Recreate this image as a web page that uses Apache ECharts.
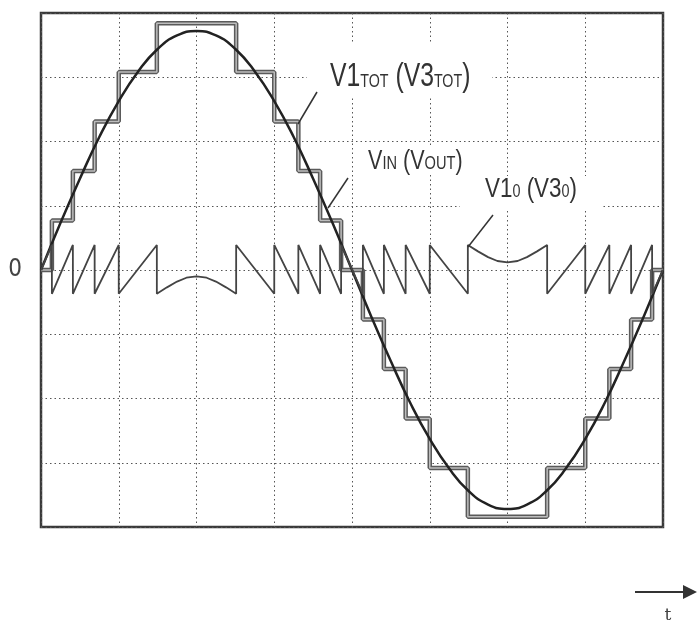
<!DOCTYPE html>
<html>
<head>
<meta charset="utf-8">
<script src="https://cdn.jsdelivr.net/npm/echarts@6/dist/echarts.min.js"></script>
<style>
html,body{margin:0;padding:0;background:#fff;}
#chart{width:697px;height:626px;}
</style>
</head>
<body>
<div id="chart"></div>
<script>
// Time axis: 8 grid divisions = one period
var sineT = [0,0.25,0.5,0.75,1,1.25,1.5,1.75,2,2.25,2.5,2.75,3,3.25,3.5,3.75,4,4.25,4.5,4.75,5,5.25,5.5,5.75,6,6.25,6.5,6.75,7,7.25,7.5,7.75,8];
var sineV = [0,0.73,1.42,2.07,2.63,3.09,3.44,3.65,3.72,3.65,3.44,3.09,2.63,2.07,1.42,0.73,0,-0.73,-1.42,-2.07,-2.63,-3.09,-3.44,-3.65,-3.72,-3.65,-3.44,-3.09,-2.63,-2.07,-1.42,-0.73,0];

// Staircase V1tot (V3tot): level held from stairT[i] to stairT[i+1]
var stairT = [0,0.14,0.41,0.69,1.0,1.49,2.51,3.0,3.31,3.59,3.86,4.14,4.41,4.69,5.0,5.49,6.51,7.0,7.31,7.59,7.86,8];
var stairV = [0,0.77,1.54,2.31,3.08,3.84,3.08,2.31,1.54,0.77,0,-0.77,-1.54,-2.31,-3.08,-3.84,-3.08,-2.31,-1.54,-0.77,0,0];

// Sawtooth V10 (V30) vertices
var sawT = [0,0.14,0.14,0.41,0.41,0.69,0.69,1.0,1.0,1.49,1.49,1.62,1.75,1.87,2.0,2.13,2.25,2.38,2.51,2.51,3.0,3.0,3.31,3.31,3.59,3.59,3.86,3.86,4.14,4.14,4.41,4.41,4.69,4.69,5.0,5.0,5.49,5.49,5.62,5.75,5.87,6.0,6.13,6.25,6.38,6.51,6.51,7.0,7.0,7.31,7.31,7.59,7.59,7.86,7.86,8];
var sawV = [0,0.39,-0.37,0.39,-0.37,0.39,-0.37,0.39,-0.37,0.39,-0.37,-0.27,-0.18,-0.12,-0.10,-0.12,-0.18,-0.27,-0.37,0.39,-0.37,0.39,-0.37,0.39,-0.37,0.39,-0.37,0.39,-0.37,0.39,-0.37,0.39,-0.37,0.39,-0.37,0.39,-0.37,0.39,0.29,0.20,0.14,0.12,0.14,0.20,0.29,0.39,-0.37,0.39,-0.37,0.39,-0.37,0.39,-0.37,0.39,-0.37,0];

var yTickLabels = {"0": "0"};

function zip(a, b) { return a.map(function (v, i) { return [v, b[i]]; }); }

var FONT = "'Liberation Sans', Arial, sans-serif";
var SX = 0.77;
var chart = echarts.init(document.getElementById('chart'));
var option = {
  animation: false,
  backgroundColor: '#fff',
  grid: {left: 41, right: 34, top: 13, bottom: 99, show: true, borderColor: '#3a3a3a', borderWidth: 2.5},
  xAxis: {
    type: 'value', min: 0, max: 8, interval: 1,
    axisLine: {show: false}, axisTick: {show: false}, axisLabel: {show: false},
    splitLine: {show: true, lineStyle: {color: '#555', type: [1.5, 3], width: 1}}
  },
  yAxis: {
    type: 'value', min: -4, max: 4, interval: 1,
    axisLine: {show: false}, axisTick: {show: false},
    axisLabel: {show: true, margin: 19, fontSize: 24, color: '#444', fontFamily: "'DejaVu Sans Condensed', sans-serif",
      formatter: function (v) { return yTickLabels[String(v)] || ''; }},
    splitLine: {show: true, lineStyle: {color: '#555', type: [1.5, 3], width: 1}}
  },
  series: [
    {type: 'line', step: 'end', data: zip(stairT, stairV), symbol: 'none',
      lineStyle: {color: '#5a5a5a', width: 4.5}, z: 2},
    {type: 'line', step: 'end', data: zip(stairT, stairV), symbol: 'none',
      lineStyle: {color: '#bdbdbd', width: 1.5}, z: 2},
    {type: 'line', smooth: true, data: zip(sineT, sineV), symbol: 'none',
      lineStyle: {color: '#222', width: 2.5}, z: 3},
    {type: 'line', data: zip(sawT, sawV), symbol: 'none',
      lineStyle: {color: '#444', width: 1.8}, z: 4}
  ],
  graphic: [
    {type: 'rect', shape: {x: 307, y: 43, width: 185, height: 54}, style: {fill: '#fff'}, z: 50},
    {type: 'rect', shape: {x: 362, y: 145, width: 106, height: 30}, style: {fill: '#fff'}, z: 50},
    {type: 'rect', shape: {x: 460, y: 176, width: 143, height: 34}, style: {fill: '#fff'}, z: 50},
    {type: 'text', x: 330, y: 93, scaleX: 0.75, z: 60, style: {
      text: '{b|V1}{s|TOT}{b| (V3}{s|TOT}{b|)}', align: 'left', verticalAlign: 'bottom',
      rich: {b: {fontSize: 33, fontFamily: FONT, fill: '#333', lineHeight: 33, verticalAlign: 'bottom'},
             s: {fontSize: 19, fontFamily: FONT, fill: '#333', lineHeight: 19, verticalAlign: 'bottom', padding: [0,0,2,0]}}}},
    {type: 'text', x: 368, y: 175, scaleX: SX, z: 60, style: {
      text: '{b|V}{s|IN}{b| (V}{s|OUT}{b|)}', align: 'left', verticalAlign: 'bottom',
      rich: {b: {fontSize: 28, fontFamily: FONT, fill: '#333', lineHeight: 28, verticalAlign: 'bottom'},
             s: {fontSize: 19, fontFamily: FONT, fill: '#333', lineHeight: 19, verticalAlign: 'bottom', padding: [0,0,2,0]}}}},
    {type: 'text', x: 485, y: 203, scaleX: 0.8, z: 60, style: {
      text: '{b|V1}{s|0}{b| (V3}{s|0}{b|)}', align: 'left', verticalAlign: 'bottom',
      rich: {b: {fontSize: 28, fontFamily: FONT, fill: '#333', lineHeight: 28, verticalAlign: 'bottom'},
             s: {fontSize: 18, fontFamily: FONT, fill: '#333', lineHeight: 18, verticalAlign: 'bottom', padding: [0,0,2,0]}}}},
    {type: 'line', shape: {x1: 317, y1: 92, x2: 298, y2: 124}, style: {stroke: '#333', lineWidth: 1.5}, z: 60},
    {type: 'line', shape: {x1: 348, y1: 178, x2: 328, y2: 208}, style: {stroke: '#333', lineWidth: 1.5}, z: 60},
    {type: 'line', shape: {x1: 493, y1: 215, x2: 468, y2: 247}, style: {stroke: '#333', lineWidth: 1.5}, z: 60},
    {type: 'line', shape: {x1: 635, y1: 592, x2: 686, y2: 592}, style: {stroke: '#333', lineWidth: 2}, z: 60},
    {type: 'polygon', shape: {points: [[683, 585], [697, 592], [683, 599]]}, style: {fill: '#333'}, z: 60},
    {type: 'text', x: 668, y: 616, z: 60, style: {text: 't', fontSize: 17, fontFamily: "'DejaVu Serif', serif", fill: '#444', align: 'center', verticalAlign: 'middle'}}
  ]
};
chart.setOption(option);
</script>
</body>
</html>
